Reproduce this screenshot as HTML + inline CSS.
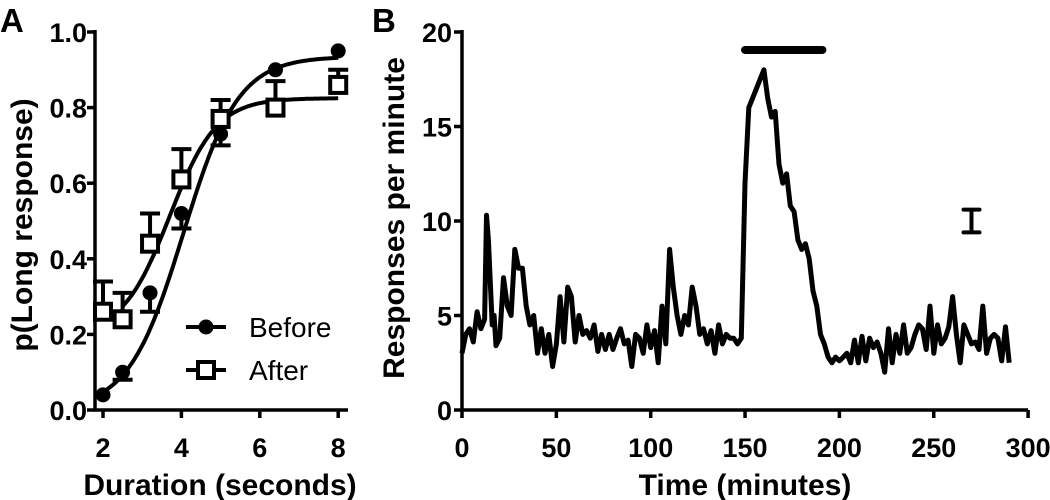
<!DOCTYPE html>
<html><head><meta charset="utf-8"><style>
body{margin:0;background:#fff}
svg{display:block}
text{font-family:"Liberation Sans",Arial,sans-serif;font-weight:bold;fill:#000}
</style></head><body>
<svg id="fig" width="1050" height="500" viewBox="0 0 1050 500">
<g id="pa"></g>
<g id="pb"></g>
</svg>
<script>
// Panel A data
const durations=[2,2.5,3.2,4,5,6.4,8];
const beforeVals=[0.04,0.10,0.31,0.52,0.73,0.90,0.95];
const beforeErrLow=[0.04,0.08,0.26,0.48,0.70,0.90,0.95];
const afterVals=[0.26,0.24,0.44,0.61,0.77,0.80,0.86];
const afterErrHigh=[0.34,0.31,0.52,0.69,0.82,0.87,0.90];
const aXTicks=[2,4,6,8];
const aYTicks=["0.0","0.2","0.4","0.6","0.8","1.0"];
// Panel B data
const times=[0,2,4,6,8,10,12,13,14,16,17,18,20,22,24,26,28,30,32,34,36,38,40,42,44,46,48,50,52,54,56,58,60,62,64,66,68,70,72,74,76,78,80,82,84,86,88,90,92,94,96,98,100,102,104,106,108,110,112,114,116,118,120,122,124,126,128,130,132,134,136,138,140,142,144,146,148,150,152,154,156,158,160,162,164,166,168,170,172,174,176,178,180,182,184,186,188,190,192,194,196,198,200,202,204,206,208,210,212,214,216,218,220,222,224,226,228,230,232,234,236,238,240,242,244,246,248,250,252,254,256,258,260,262,264,266,268,270,272,274,276,278,280,282,284,286,288,290];
const rates=[3,4,4.3,3.6,5.2,4.3,4.8,10.3,9,4.5,5,3.4,3.8,7,5.5,5,8.5,7.5,7.5,5.5,4.5,5,3,4.3,3,4,2.3,3.5,6,3.6,6.5,6,3.6,5,4,4.2,3.8,4.5,3.1,4,3.2,4,3.2,3.8,4.3,3.5,3.7,2.3,4,3.8,3,4.5,3.3,4.2,2.5,5.5,3.5,8.5,6.5,5,4,5,4.5,6.5,5.5,4,4.3,3.5,4.2,3,4.5,3.5,4,3.8,3.8,3.5,3.8,12,16,16.5,17,17.5,18,16.5,15.5,15.8,13,12,12.5,10.8,10.5,9,8.5,8.8,8,6.3,5.5,4,3.5,2.8,2.5,2.8,2.6,2.8,3,2.5,3.7,2.5,3.9,2.6,3.8,3.3,3.6,3,2,4.3,2.5,4,3,4.5,3,3.3,4,4.5,4.3,3.2,5.5,3,4.5,3.5,3.8,4.4,6,4,2.5,4.5,4,3.5,3.6,3.2,5.5,3,3.8,4,3.8,2.6,4.4,2.5];
const bXTicks=[0,50,100,150,200,250,300];
const bYTicks=[0,5,10,15,20];
const barStart=150, barEnd=191, barLevel=19.05;
const scaleBarX=270, scaleBarLow=9.4, scaleBarHigh=10.6;

const NS="http://www.w3.org/2000/svg";
function mk(p,tag,at){const e=document.createElementNS(NS,tag);for(const k in at)e.setAttribute(k,at[k]);p.appendChild(e);return e;}
function tx(p,x,y,s,size,anchor,extra){const t=mk(p,'text',Object.assign({x:x,y:y,'font-size':size,'text-anchor':anchor||'middle'},extra||{}));t.textContent=s;return t;}

// ---- Panel A
const pa=document.getElementById('pa');
const ax=v=>103+(v-2)*39.2, ay=v=>410-v*378;
let l=mk(pa,'path',{d:`M95,30V410H348`,stroke:'#000','stroke-width':3.5,fill:'none'});


aYTicks.forEach(s=>{const y=ay(+s);const t=mk(pa,'line',{x1:87,x2:95,y1:y,y2:y,stroke:'#000','stroke-width':3.5});

const lb=tx(pa,87,y+10,s,27,'end');});
aXTicks.forEach(v=>{const x=ax(v);const t=mk(pa,'line',{x1:x,x2:x,y1:410,y2:418,stroke:'#000','stroke-width':3.5});

const lb=tx(pa,x,457,String(v),27);});
let at=tx(pa,220,495,'Duration (seconds)',30);
at=tx(pa,0,0,'p(Long response)',30,'middle',{transform:'translate(32,225) rotate(-90)'});
at=tx(pa,0,32,'A',33,'start');
// curves
function sig(x,B,T,x0,s){return B+(T-B)/(1+Math.exp(-(x-x0)/s));}
let d='';for(let x=2;x<=8.001;x+=0.05)d+=(d?'L':'M')+ax(x).toFixed(1)+','+ay(sig(x,0,0.935,4.05,0.7)).toFixed(1);
l=mk(pa,'path',{d:d,stroke:'#000','stroke-width':4,fill:'none'});

d='';for(let x=2.5;x<=8.001;x+=0.05)d+=(d?'L':'M')+ax(x).toFixed(1)+','+ay(sig(x,0.2,0.825,3.7,0.6)).toFixed(1);
l=mk(pa,'path',{d:d,stroke:'#000','stroke-width':4,fill:'none'});

durations.forEach((v,i)=>{const x=ax(v);
 if(beforeErrLow[i]<beforeVals[i]-0.005){const e=mk(pa,'path',{d:`M${x},${ay(beforeVals[i])}V${ay(beforeErrLow[i])}M${x-10},${ay(beforeErrLow[i])}H${x+10}`,stroke:'#000','stroke-width':4,fill:'none'});
 }
 const c=mk(pa,'circle',{cx:x,cy:ay(beforeVals[i]),r:7.5,fill:'#000'});
 
 const e2=mk(pa,'path',{d:`M${x},${ay(afterVals[i])}V${ay(afterErrHigh[i])}M${x-10},${ay(afterErrHigh[i])}H${x+10}`,stroke:'#000','stroke-width':4,fill:'none'});
 
 const r=mk(pa,'rect',{x:x-8,y:ay(afterVals[i])-8,width:16,height:16,fill:'#fff',stroke:'#000','stroke-width':4});
 
});
// legend
let g=mk(pa,'g',{});
mk(g,'line',{x1:186,x2:226,y1:327,y2:327,stroke:'#000','stroke-width':4});mk(g,'circle',{cx:206,cy:327,r:7.5,fill:'#000'});
tx(g,249,337,'Before',28,'start',{style:'font-weight:normal'});
g=mk(pa,'g',{});
mk(g,'line',{x1:186,x2:226,y1:370,y2:370,stroke:'#000','stroke-width':4});mk(g,'rect',{x:198,y:362,width:16,height:16,fill:'#fff',stroke:'#000','stroke-width':4});
tx(g,249,380,'After',28,'start',{style:'font-weight:normal'});

// ---- Panel B
const pb=document.getElementById('pb');
const bx=v=>462+v*1.887, by=v=>410-v*18.9;
l=mk(pb,'path',{d:`M462,30V410H${bx(300)}`,stroke:'#000','stroke-width':3.5,fill:'none'});

bYTicks.forEach(v=>{const y=by(v);const t=mk(pb,'line',{x1:454,x2:462,y1:y,y2:y,stroke:'#000','stroke-width':3.5});

const lb=tx(pb,452,y+10,String(v),27,'end');});
bXTicks.forEach(v=>{const x=bx(v);const t=mk(pb,'line',{x1:x,x2:x,y1:410,y2:418,stroke:'#000','stroke-width':3.5});

const lb=tx(pb,x,457,String(v),27);});
at=tx(pb,745,495,'Time (minutes)',30);
at=tx(pb,0,0,'Responses per minute',30,'middle',{transform:'translate(404,218) rotate(-90)'});
at=tx(pb,372,32,'B',33,'start');
d='';times.forEach((t,i)=>{d+=(i?'L':'M')+bx(t).toFixed(1)+','+by(rates[i]).toFixed(1);});
l=mk(pb,'path',{d:d,stroke:'#000','stroke-width':5,fill:'none','stroke-linejoin':'round'});

l=mk(pb,'line',{x1:bx(barStart),x2:bx(barEnd),y1:by(barLevel),y2:by(barLevel),stroke:'#000','stroke-width':8,'stroke-linecap':'round'});

const sx=bx(scaleBarX);
l=mk(pb,'path',{d:`M${sx},${by(scaleBarLow)}V${by(scaleBarHigh)}M${sx-8},${by(scaleBarLow)}H${sx+8}M${sx-8},${by(scaleBarHigh)}H${sx+8}`,stroke:'#000','stroke-width':4,fill:'none','stroke-linecap':'round'});

</script>
</body></html>
